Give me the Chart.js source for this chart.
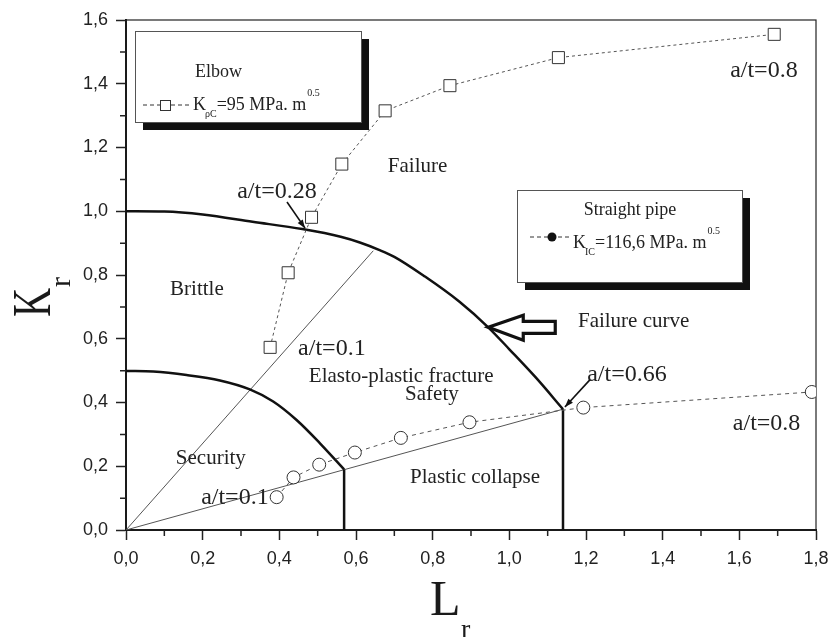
<!DOCTYPE html>
<html>
<head>
<meta charset="utf-8">
<script src="https://cdn.jsdelivr.net/npm/chart.js@4"></script>
<style>
html, body { margin: 0; padding: 0; background: #fff; }
canvas { display: block; }
</style>
</head>
<body>
<canvas id="myChart" width="830" height="637"></canvas>
<script>
// Elbow, K_pC = 95 MPa.m^0.5 (a/t from 0.1 to 0.8)
const elbowLr = [0.376, 0.423, 0.484, 0.563, 0.676, 0.845, 1.128, 1.691]
const elbowKr = [0.573, 0.807, 0.981, 1.148, 1.315, 1.394, 1.482, 1.555]

// Straight pipe, K_IC = 116,6 MPa.m^0.5
const pipeLr = [0.393, 0.437, 0.504, 0.597, 0.717, 0.896, 1.193, 1.789]
const pipeKr = [0.103, 0.165, 0.205, 0.243, 0.289, 0.338, 0.384, 0.433]

// failure assessment curve + cut-off
const failLr = [0, 0.1, 0.2, 0.33, 0.46, 0.56, 0.61, 0.66, 0.70, 0.78, 0.87, 0.945, 1.0, 1.07, 1.14]
const failKr = [1.0, 0.999, 0.99, 0.967, 0.944, 0.92, 0.902, 0.879, 0.857, 0.795, 0.716, 0.636, 0.567, 0.477, 0.379]
const cutLr = [1.14, 1.14]
const cutKr = [0.379, 0]

// inner (security) curve + cut-off
const innerLr = [0, 0.071, 0.158, 0.245, 0.323, 0.384, 0.445, 0.506, 0.569]
const innerKr = [0.499, 0.497, 0.486, 0.469, 0.441, 0.403, 0.345, 0.272, 0.19]
const innerCutLr = [0.569, 0.569]
const innerCutKr = [0.19, 0]

// load lines from origin
const loadLowLr = [0, 1.14]
const loadLowKr = [0, 0.379]
const loadHighLr = [0, 0.645]
const loadHighKr = [0, 0.876]

const xMin = 0, xMax = 1.8, yMin = 0, yMax = 1.6, tickStep = 0.2

const ctx = document.getElementById('myChart').getContext('2d')
const pts = (xs, ys) => xs.map((x, i) => ({ x, y: ys[i] }))
const fmt = v => v.toFixed(1).replace('.', ',')
const serif = '"Liberation Serif", "Times New Roman", serif'

Chart.defaults.font.family = '"Liberation Sans", Arial, sans-serif'

const line = (data, w, color) => ({
    data, showLine: true, borderColor: color, borderWidth: w,
    pointRadius: 0, pointHoverRadius: 0, fill: false
})

const drawArrow = (c, x1, y1, x2, y2) => {
    const ang = Math.atan2(y2 - y1, x2 - x1), h = 9
    c.beginPath(); c.moveTo(x1, y1); c.lineTo(x2, y2); c.stroke()
    c.beginPath()
    c.moveTo(x2, y2)
    c.lineTo(x2 - h * Math.cos(ang - 0.35), y2 - h * Math.sin(ang - 0.35))
    c.lineTo(x2 - h * Math.cos(ang + 0.35), y2 - h * Math.sin(ang + 0.35))
    c.closePath(); c.fill()
}

const extras = {
    id: 'extras',
    beforeDatasetsDraw(chart) {
        const { ctx: c, chartArea: a, scales: { x, y } } = chart
        c.save()
        c.strokeStyle = '#222'
        c.lineWidth = 1.2
        c.strokeRect(a.left, a.top, a.right - a.left, a.bottom - a.top)
        // minor ticks
        c.lineWidth = 1.5
        c.beginPath()
        for (let i = 0; i < 9; i++) {
            const px = x.getPixelForValue(0.1 + i * 0.2)
            c.moveTo(px, a.bottom); c.lineTo(px, a.bottom + 6)
        }
        for (let i = 0; i < 8; i++) {
            const py = y.getPixelForValue(0.1 + i * 0.2)
            c.moveTo(a.left, py); c.lineTo(a.left - 6, py)
        }
        c.stroke()
        c.restore()
    },
    afterDatasetsDraw(chart) {
        const { ctx: c, scales: { x, y } } = chart
        const X = v => x.getPixelForValue(v), Y = v => y.getPixelForValue(v)
        c.save()
        c.fillStyle = '#222'
        c.textBaseline = 'alphabetic'
        const txt = (s, lx, ky, size, align) => {
            c.font = size + 'px ' + serif
            c.textAlign = align || 'left'
            c.fillText(s, X(lx), Y(ky))
        }
        txt('a/t=0.28', 0.290, 1.042, 24)
        txt('Failure', 0.683, 1.123, 21)
        txt('Brittle', 0.115, 0.737, 21)
        txt('a/t=0.1', 0.449, 0.549, 24)
        txt('Elasto-plastic fracture', 0.477, 0.464, 21)
        txt('Safety', 0.798, 0.408, 21, 'center')
        txt('Failure curve', 1.179, 0.637, 21)
        txt('a/t=0.66', 1.203, 0.467, 24)
        txt('a/t=0.8', 1.576, 1.421, 24)
        txt('a/t=0.8', 1.583, 0.314, 24)
        txt('Security', 0.130, 0.207, 21)
        txt('Plastic collapse', 0.741, 0.147, 21)
        txt('a/t=0.1', 0.196, 0.082, 24)

        // pointer arrows
        c.strokeStyle = '#111'
        c.fillStyle = '#111'
        c.lineWidth = 1.6
        drawArrow(c, X(0.420), Y(1.029), X(0.467), Y(0.947))
        drawArrow(c, X(1.210), Y(0.471), X(1.145), Y(0.386))

        // big hollow arrow pointing at the failure curve
        const tx = X(0.945), ty = Y(0.636)
        c.beginPath()
        c.moveTo(tx, ty)
        c.lineTo(tx + 35, ty - 12)
        c.lineTo(tx + 35, ty - 6)
        c.lineTo(tx + 67, ty - 6)
        c.lineTo(tx + 67, ty + 6)
        c.lineTo(tx + 35, ty + 6)
        c.lineTo(tx + 35, ty + 13)
        c.closePath()
        c.fillStyle = '#fff'
        c.fill()
        c.lineWidth = 3.2
        c.lineJoin = 'miter'
        c.strokeStyle = '#111'
        c.stroke()

        // legend boxes
        const box = (l, t, w, h) => {
            c.fillStyle = '#111'
            c.fillRect(l + 8, t + 8, w, h)
            c.fillStyle = '#fff'
            c.fillRect(l, t, w, h)
            c.strokeStyle = '#555'
            c.lineWidth = 1
            c.strokeRect(l + 0.5, t + 0.5, w, h)
        }
        const dashed = (x1, x2, yy) => {
            c.save()
            c.strokeStyle = '#333'
            c.lineWidth = 1
            c.setLineDash([4, 3])
            c.beginPath(); c.moveTo(x1, yy); c.lineTo(x2, yy); c.stroke()
            c.restore()
        }
        const label = (lx, by, sub, rest) => {
            c.fillStyle = '#222'
            c.textAlign = 'left'
            c.font = '18px ' + serif
            c.fillText('K', lx, by)
            const kw = c.measureText('K').width
            c.font = '10px ' + serif
            c.fillText(sub, lx + kw - 1, by + 7)
            const sw = c.measureText(sub).width
            c.font = '18px ' + serif
            c.fillText(rest, lx + kw + sw - 1, by)
            const rw = c.measureText(rest).width
            c.font = '10px ' + serif
            c.fillText('0.5', lx + kw + sw + rw, by - 14)
        }

        box(135, 31, 226, 91)
        c.fillStyle = '#222'
        c.font = '18px ' + serif
        c.textAlign = 'left'
        c.fillText('Elbow', 195, 77)
        dashed(143, 190, 105)
        c.fillStyle = '#fff'
        c.fillRect(160, 100, 10, 10)
        c.strokeStyle = '#333'
        c.strokeRect(160.5, 100.5, 10, 10)
        label(193, 110, '\u03C1C', '=95 MPa. m')

        box(517, 190, 225, 92)
        c.fillStyle = '#222'
        c.font = '18px ' + serif
        c.textAlign = 'center'
        c.fillText('Straight pipe', 630, 215)
        dashed(530, 570, 237)
        c.fillStyle = '#111'
        c.beginPath(); c.arc(552, 237, 4.5, 0, Math.PI * 2); c.fill()
        label(573, 248, 'IC', '=116,6 MPa. m')

        // axis titles
        c.fillStyle = '#1a1a1a'
        c.textAlign = 'left'
        c.save()
        c.translate(50, 317)
        c.rotate(-Math.PI / 2)
        c.save()
        c.scale(0.84, 1.15)
        c.font = '48px ' + serif
        c.fillText('K', 0, 0)
        c.restore()
        c.font = '30px ' + serif
        c.fillText('r', 30, 20)
        c.restore()
        c.font = '50px ' + serif
        c.fillText('L', 430, 615)
        c.font = '28px ' + serif
        c.fillText('r', 461, 638)
        c.restore()
    }
}

const config = {
    type: 'scatter',
    data: {
        datasets: [
            {
                label: 'Elbow',
                data: pts(elbowLr, elbowKr),
                showLine: true,
                borderColor: '#555',
                borderWidth: 1,
                borderDash: [3, 3],
                pointStyle: 'rect',
                pointRadius: 8.5,
                pointBackgroundColor: '#fff',
                pointBorderColor: '#333',
                pointBorderWidth: 1
            },
            {
                label: 'Straight pipe',
                data: pts(pipeLr, pipeKr),
                showLine: true,
                borderColor: '#555',
                borderWidth: 1,
                borderDash: [4, 4],
                pointStyle: 'circle',
                pointRadius: 6.5,
                pointBackgroundColor: '#fff',
                pointBorderColor: '#333',
                pointBorderWidth: 1
            },
            { ...line(pts(failLr, failKr), 2.5, '#111'), cubicInterpolationMode: 'monotone' },
            line(pts(cutLr, cutKr), 2.5, '#111'),
            { ...line(pts(innerLr, innerKr), 2.5, '#111'), cubicInterpolationMode: 'monotone' },
            line(pts(innerCutLr, innerCutKr), 2.5, '#111'),
            line(pts(loadLowLr, loadLowKr), 1, '#555'),
            line(pts(loadHighLr, loadHighKr), 1, '#555')
        ]
    },
    options: {
        responsive: false,
        animation: false,
        devicePixelRatio: 1,
        layout: { padding: { top: 20, right: 14, left: 0, bottom: 0 } },
        plugins: { legend: { display: false }, tooltip: { enabled: false } },
        scales: {
            x: {
                type: 'linear', min: xMin, max: xMax,
                afterFit(scale) {
                    scale.height = 107
                    scale.paddingLeft = 0
                    scale.paddingRight = 0
                },
                border: { display: true, width: 2, color: '#111' },
                grid: { drawOnChartArea: false, drawTicks: true, tickLength: 10, tickColor: '#222', tickWidth: 1.5 },
                ticks: { stepSize: tickStep, padding: 8, color: '#222', font: { size: 18 }, callback: v => fmt(v), maxRotation: 0 }
            },
            y: {
                type: 'linear', min: yMin, max: yMax,
                afterFit(scale) {
                    scale.width = 126
                    scale.paddingTop = 0
                    scale.paddingBottom = 0
                },
                border: { display: true, width: 2, color: '#111' },
                grid: { drawOnChartArea: false, drawTicks: true, tickLength: 10, tickColor: '#222', tickWidth: 1.5 },
                ticks: { stepSize: tickStep, padding: 8, color: '#222', font: { size: 18 }, callback: v => fmt(v) }
            }
        }
    },
    plugins: [extras]
}

const myChart = new Chart(ctx, config)
</script>
</body>
</html>
